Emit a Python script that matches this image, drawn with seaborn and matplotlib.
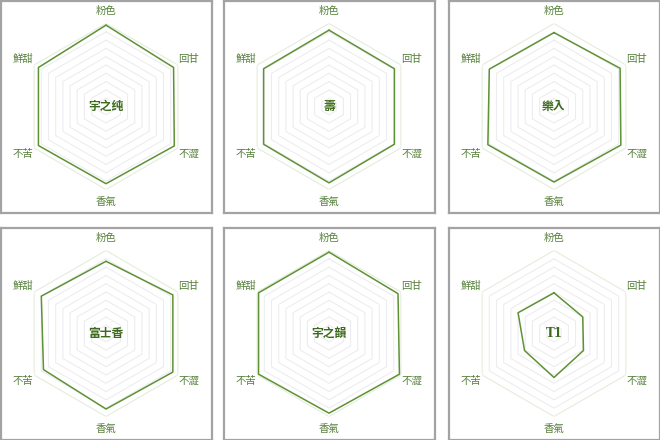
import numpy as np
import pandas as pd
import matplotlib
matplotlib.use('Agg')
import matplotlib.pyplot as plt
import seaborn as sns

sns.set_theme(style='white')
plt.rcParams['font.family'] = ['Noto Sans CJK TC', 'DejaVu Sans']

# 六個評分項目 (順時針, 由上方開始)
attributes = ['粉色', '回甘', '不澀', '香氣', '不苦', '鮮甜']
tea_names = ['宇之纯', '壽', '樂入', '富士香', '宇之韻', 'T1']

# 各款抹茶的分數 (0-10)
score_yuzhichun = [9.8, 9.4, 9.5, 9.3, 9.4, 9.4]
score_shou = [9.2, 9.1, 9.1, 9.2, 9.1, 9.1]
score_rakuiri = [8.9, 9.2, 9.3, 9.1, 9.2, 9.0]
score_fujika = [8.7, 9.3, 9.3, 9.1, 8.7, 9.0]
score_yuzhiyun = [9.8, 9.6, 9.8, 9.6, 9.8, 9.8]
score_t1 = [4.9, 4.0, 4.1, 5.3, 4.1, 5.0]
all_scores = [score_yuzhichun, score_shou, score_rakuiri,
              score_fujika, score_yuzhiyun, score_t1]

grid_levels = list(range(1, 11))

line_color = '#5e9234'
label_color = '#55803a'
center_color = '#3d6a1c'

W, H = 660, 440
fig = plt.figure(figsize=(W / 100, H / 100), dpi=100)
fig.patch.set_facecolor('white')

# 面板位置 (像素)
panel_pos = [(0, 0), (223, 0), (448, 0), (0, 227), (223, 227), (448, 227)]
pw, ph = 212, 213
R = 83  # 外圈半徑 (像素)

theta = np.deg2rad(np.arange(0, 360, 60))
theta_closed = np.append(theta, 2 * np.pi)

for (px, py), name, scores in zip(panel_pos, tea_names, all_scores):
    # 外框
    frame = fig.add_axes([(px + 1) / W, 1 - (py + ph) / H, (pw - 1) / W, (ph - 1) / H])
    frame.set_xticks([])
    frame.set_yticks([])
    for sp in frame.spines.values():
        sp.set_color('#a3a3a3')
        sp.set_linewidth(1.6)

    cx, cy = px + pw / 2, py + ph / 2
    ax = fig.add_axes([(cx - R) / W, 1 - (cy + R) / H, 2 * R / W, 2 * R / H],
                      projection='polar')
    ax.set_theta_zero_location('N')
    ax.set_theta_direction(-1)
    ax.set_ylim(0, 10)

    # 六角形格線
    for lv in grid_levels:
        col = '#e2ecda' if lv == 10 else '#ececf0'
        ax.plot(theta_closed, [lv] * 7, color=col, lw=0.75, zorder=1)

    df = pd.DataFrame({'theta': theta_closed, 'score': scores + [scores[0]]})
    sns.lineplot(data=df, x='theta', y='score', sort=False, estimator=None,
                 color=line_color, lw=1.1, ax=ax, zorder=3)
    ax.set_ylim(0, 10)
    ax.set_axis_off()

    for t, lab in zip(theta, attributes):
        ax.text(t, 11.5, lab, ha='center', va='center', fontsize=7.5,
                color=label_color, clip_on=False)

    ax.text(0, 0, name, ha='center', va='center', fontsize=8.5,
            fontweight='bold', color=center_color,
            family=['DejaVu Serif', 'Noto Sans CJK TC'], zorder=4)

fig.savefig('out.png', dpi=100, facecolor='white')
